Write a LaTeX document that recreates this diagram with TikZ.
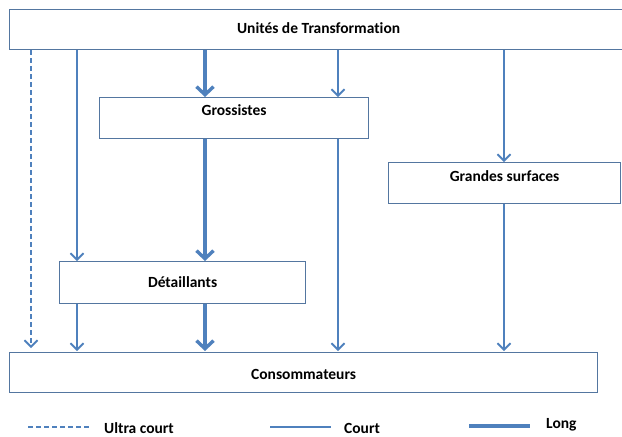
\documentclass[tikz,border=0pt]{standalone}
\usepackage{fontspec}
\setmainfont{Carlito}[Ligatures=NoCommon]
\usetikzlibrary{arrows.meta}
\definecolor{bleu}{RGB}{79,129,189}
\definecolor{cadre}{RGB}{84,118,160}

\begin{document}
\begin{tikzpicture}[x=1pt,y=-1pt]
\tikzstyle{boite}=[draw=cadre,line width=1.2pt,fill=white,anchor=north west,inner sep=0pt,font=\bfseries\fontsize{15.5}{18}\selectfont]
\tikzstyle{court}=[-{Straight Barb[length=6.5pt,width=13pt]},bleu,line width=1.8pt]
\tikzstyle{ucourt}=[court,dash pattern=on 5pt off 3pt]
\tikzstyle{long}=[-{Straight Barb[length=8pt,width=17pt]},bleu,line width=3.4pt]
\tikzstyle{leg}=[anchor=west,inner sep=0pt,font=\bfseries\fontsize{15.5}{18}\selectfont]
\useasboundingbox (0,0) rectangle (622,437);
\node (1) at (9,9) [boite,minimum width=618pt,text height=24pt,text depth=16pt]{Unités de Transformation};
\node (2) at (99,97) [boite,minimum width=269pt,text height=18pt,text depth=22.5pt]{Grossistes};
\node (3) at (388,162) [boite,minimum width=232pt,text height=19pt,text depth=22pt]{Grandes surfaces};
\node (4) at (59,261) [boite,minimum width=246pt,text height=26pt,text depth=16pt]{Détaillants};
\node (5) at (9,352) [boite,minimum width=588pt,text height=27pt,text depth=13pt]{Consommateurs};
\coordinate (a) at (31,0);
\coordinate (b) at (77,0);
\coordinate (c) at (205,0);
\coordinate (d) at (338,0);
\coordinate (e) at (504,0);

\draw[ucourt,shorten >=4pt] (1.south -| a) -- (5.north -| a);
\draw[court] (1.south -| b) -- (4.north -| b);
\draw[court,shorten >=1pt] (4.south -| b) -- (5.north -| b);
\draw[long] (1.south -| c) -- (2.north -| c);
\draw[long] (2.south -| c) -- (4.north -| c);
\draw[long,shorten >=1pt] (4.south -| c) -- (5.north -| c);
\draw[court] (1.south -| d) -- (2.north -| d);
\draw[court,shorten >=1pt] (2.south -| d) -- (5.north -| d);
\draw[court] (1.south -| e) -- (3.north -| e);
\draw[court,shorten >=1pt] (3.south -| e) -- (5.north -| e);

% legende
\coordinate (l1) at (28,427);
\coordinate (l2) at (89,427);
\coordinate (l3) at (270,427);
\coordinate (l4) at (331,427);
\coordinate (l5) at (469,426);
\coordinate (l6) at (530,426);
\node (6) at (104,428) [leg]{Ultra court};
\node (7) at (344,428) [leg]{Court};
\node (8) at (546,425) [leg]{Long};
\draw[bleu,line width=1.8pt,dash pattern=on 5pt off 3pt] (l1) -- (l2);
\draw[bleu,line width=1.8pt] (l3) -- (l4);
\draw[bleu,line width=3.4pt] (l5) -- (l6);
\end{tikzpicture}
\end{document}
